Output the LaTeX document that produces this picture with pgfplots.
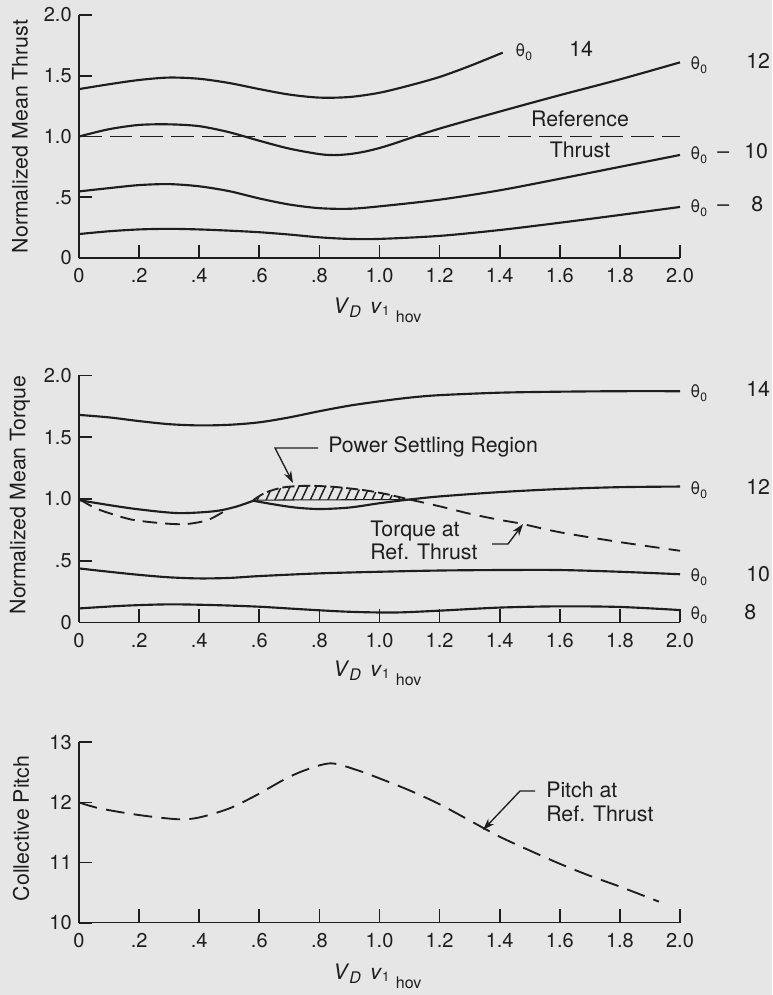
\documentclass[border=0pt]{standalone}
\usepackage{fontspec}
\setmainfont{TeX Gyre Heros}
\usepackage{pgfplots}
\pgfplotsset{compat=1.18}
\usetikzlibrary{patterns.meta,arrows.meta}
\definecolor{ink}{RGB}{30,30,30}
\definecolor{paper}{RGB}{229,230,229}
\newcommand\xlab{{\fontsize{16}{19}\selectfont\textit{V}\raisebox{-0.35ex}{\fontsize{12}{14}\selectfont\textit{D}}\hspace{0.45em}\textit{v}\raisebox{-0.15ex}{\fontsize{10}{12}\selectfont 1}\hspace{0.3em}\raisebox{-0.75ex}{\fontsize{12}{14}\selectfont hov}}}
\newcommand\thz{θ\textsubscript{0}}
\pgfplotsset{
  base/.style={anchor=south west, scale only axis, width=450.75pt,
    xmin=0, xmax=2,
    axis x line*=bottom, axis y line*=left,
    axis line style={ink, line width=1.1pt, -},
    xtick={0,0.2,0.4,0.6,0.8,1,1.2,1.4,1.6,1.8,2},
    xticklabels={0,.2,.4,.6,.8,1.0,1.2,1.4,1.6,1.8,2.0},
    xtick pos=bottom, ytick pos=left,
    xtick align=inside, ytick align=inside, major tick length=10pt,
    major tick style={draw=ink, line width=1.3pt},
    ticklabel style={font=\fontsize{15}{18}\selectfont, text=ink},
    xticklabel style={yshift=-4.5pt}, yticklabel style={xshift=-2pt},
    /pgf/number format/assume math mode=true, clip=false},
  curve/.style={ink, line width=1.6pt, smooth, no marks},
}
\begin{document}
\begin{tikzpicture}
\fill[paper] (0,0) rectangle (579pt,746.25pt);
\path[use as bounding box] (0,0) rectangle (579pt,746.25pt);

% ---------------- Thrust ----------------
\begin{axis}[base, at={(59.25pt,552.75pt)}, height=182.25pt,
  ymin=0, ymax=2, ytick={0,0.5,1,1.5,2}, yticklabels={0,.5,1.0,1.5,2.0}]
\addplot[curve] coordinates {(0,1.39) (0.1,1.43) (0.2,1.465) (0.3,1.485) (0.4,1.475) (0.5,1.44) (0.6,1.39) (0.7,1.345) (0.8,1.32) (0.9,1.325) (1.0,1.36) (1.1,1.42) (1.2,1.49) (1.3,1.58) (1.41,1.69)};
\addplot[curve] coordinates {(0,1.0) (0.1,1.06) (0.2,1.095) (0.3,1.10) (0.4,1.085) (0.5,1.035) (0.6,0.965) (0.7,0.9) (0.8,0.855) (0.85,0.847) (0.9,0.855) (0.95,0.875) (1.0,0.905) (1.05,0.943) (1.1,0.985) (1.2,1.065) (1.4,1.205) (1.6,1.34) (1.8,1.47) (2.0,1.61)};
\addplot[curve] coordinates {(0,0.548) (0.1,0.575) (0.2,0.6) (0.3,0.608) (0.4,0.59) (0.5,0.55) (0.6,0.49) (0.7,0.44) (0.8,0.41) (0.9,0.405) (1.0,0.425) (1.2,0.48) (1.4,0.557) (1.6,0.652) (1.8,0.75) (2.0,0.848)};
\addplot[curve] coordinates {(0,0.197) (0.1,0.22) (0.2,0.235) (0.3,0.24) (0.4,0.235) (0.5,0.225) (0.6,0.212) (0.7,0.193) (0.8,0.17) (0.9,0.157) (1.0,0.157) (1.2,0.182) (1.4,0.23) (1.6,0.29) (1.8,0.354) (2.0,0.42)};
\addplot[ink, line width=1.3pt, dash pattern=on 17pt off 6pt, no marks] coordinates {(0,1) (2,1)};
\end{axis}

% ---------------- Torque ----------------
\begin{axis}[base, at={(59.25pt,279.45pt)}, height=185.25pt,
  ymin=0, ymax=2, ytick={0,0.5,1,1.5,2}, yticklabels={0,.5,1.0,1.5,2.0}]
\addplot[curve] coordinates {(0,1.68) (0.1,1.66) (0.2,1.63) (0.3,1.605) (0.4,1.595) (0.5,1.60) (0.6,1.62) (0.7,1.66) (0.8,1.71) (0.9,1.755) (1.0,1.79) (1.1,1.82) (1.2,1.84) (1.4,1.86) (1.6,1.868) (1.8,1.872) (2.0,1.872)};
\addplot[curve] coordinates {(0,0.99) (0.1,0.95) (0.2,0.915) (0.33,0.885) (0.45,0.9) (0.52,0.935) (0.58,0.985)};
\addplot[curve] coordinates {(0.58,0.985) (0.65,0.955) (0.72,0.93) (0.8,0.918) (0.9,0.93) (1.0,0.965) (1.1,0.995) (1.2,1.02) (1.4,1.055) (1.6,1.08) (1.8,1.095) (2.0,1.10)};
\addplot[curve] coordinates {(0,0.437) (0.1,0.41) (0.2,0.385) (0.3,0.365) (0.4,0.356) (0.5,0.36) (0.6,0.375) (0.8,0.397) (1.0,0.41) (1.2,0.42) (1.4,0.424) (1.6,0.424) (1.8,0.41) (2.0,0.39)};
\addplot[curve] coordinates {(0,0.113) (0.15,0.135) (0.3,0.146) (0.45,0.14) (0.6,0.127) (0.75,0.105) (0.9,0.086) (1.05,0.08) (1.2,0.095) (1.4,0.12) (1.6,0.13) (1.8,0.125) (2.0,0.10)};
% power settling region (hatched)
\addplot[draw=none, no marks, pattern={Lines[angle=65,distance=6pt,line width=1.1pt]}, pattern color=ink] coordinates {(0.58,0.99) (0.60,1.025) (0.62,1.05) (0.65,1.075) (0.68,1.093) (0.72,1.103) (0.76,1.106) (0.80,1.104) (0.85,1.097) (0.90,1.085) (0.95,1.07) (1.00,1.05) (1.05,1.025) (1.1,0.995)} -- cycle;
\addplot[ink, line width=0.8pt, no marks] coordinates {(0.58,0.99) (1.1,0.995)};
% torque at reference thrust
\addplot[ink, line width=1.4pt, smooth, no marks, dash pattern=on 11pt off 6pt] coordinates {(0,1.0) (0.05,0.93) (0.1,0.885) (0.18,0.83) (0.29,0.80) (0.36,0.797) (0.43,0.83) (0.49,0.91)};
\addplot[ink, line width=1.4pt, smooth, no marks, dash pattern=on 9pt off 3pt] coordinates {(0.58,0.99) (0.62,1.05) (0.68,1.093) (0.76,1.106) (0.85,1.097) (0.95,1.07) (1.02,1.04) (1.1,0.995)};
\addplot[ink, line width=1.4pt, smooth, no marks, dash pattern=on 11pt off 7pt] coordinates {(1.1,0.995) (1.2,0.94) (1.3,0.88) (1.4,0.83) (1.47,0.80) (1.6,0.73) (1.8,0.65) (2.0,0.58)};
\end{axis}

% ---------------- Pitch ----------------
\begin{axis}[base, at={(59.25pt,54.225pt)}, height=135.3pt,
  ymin=10, ymax=13, ytick={10,11,12,13}, yticklabels={10,11,12,13}]
\addplot[ink, line width=1.4pt, smooth, no marks, dash pattern=on 14pt off 7pt] coordinates {(0,12.0) (0.07,11.9) (0.2,11.79) (0.33,11.72) (0.4,11.75) (0.5,11.9) (0.59,12.12) (0.69,12.4) (0.76,12.55) (0.84,12.65) (0.93,12.53) (1.0,12.4) (1.1,12.2) (1.2,11.97) (1.3,11.7) (1.4,11.43) (1.5,11.2) (1.6,10.98) (1.7,10.78) (1.8,10.6) (1.93,10.35)};
\end{axis}

% ---------------- annotations (pixel coordinates) ----------------
\begin{scope}[x=0.75pt, y=-0.75pt, yshift=746.25pt, every node/.style={text=ink, inner sep=0pt, font=\fontsize{16}{19}\selectfont}]
\node[rotate=90] at (20,136.5) {Normalized Mean Thrust};
\node[rotate=90] at (20,495) {Normalized Mean Torque};
\node[rotate=90] at (21,828.5) {Collective Pitch};
\node[anchor=base west] at (333,314) {\xlab};
\node[anchor=base west] at (333,677) {\xlab};
\node[anchor=base west] at (333,980) {\xlab};
% thrust labels
\node[anchor=base west, font=\fontsize{13}{15}\selectfont] at (515,57) {\thz};
\node[anchor=base west] at (569,57) {14};
\node[anchor=base west, font=\fontsize{13}{15}\selectfont] at (690,70) {\thz};
\node[anchor=base west] at (746,69) {12};
\node[anchor=base west, font=\fontsize{13}{15}\selectfont] at (690,160) {\thz};
\node[anchor=base west] at (717,159) {–};
\node[anchor=base west] at (744,159) {10};
\node[anchor=base west, font=\fontsize{13}{15}\selectfont] at (690,213) {\thz};
\node[anchor=base west] at (717,212) {–};
\node[anchor=base west] at (751,212) {8};
\node[anchor=base] at (580,127) {Reference};
\node[anchor=base] at (580,158) {Thrust};
% torque labels
\node[anchor=base west, font=\fontsize{13}{15}\selectfont] at (690,398) {\thz};
\node[anchor=base west] at (746,397) {14};
\node[anchor=base west, font=\fontsize{13}{15}\selectfont] at (690,495) {\thz};
\node[anchor=base west] at (746,495) {12};
\node[anchor=base west, font=\fontsize{13}{15}\selectfont] at (690,582) {\thz};
\node[anchor=base west] at (746,582) {10};
\node[anchor=base west, font=\fontsize{13}{15}\selectfont] at (690,620) {\thz};
\node[anchor=base west] at (744,620) {8};
\node[anchor=base west] at (328,453) {Power Settling Region};
\draw[ink, line width=1pt, -{Stealth[length=9pt,width=6pt]}] (318,448) -- (275,448) -- (293,483);
\node[anchor=base west] at (370,537) {Torque at};
\node[anchor=base west] at (370,560) {Ref. Thrust};
\draw[ink, line width=1pt, -{Stealth[length=9pt,width=6pt]}] (492,544) -- (508,544) -- (523,524);
% pitch labels
\node[anchor=base west] at (546,798) {Pitch at};
\node[anchor=base west] at (546,822) {Ref. Thrust};
\draw[ink, line width=1pt, -{Stealth[length=9pt,width=6pt]}] (535,791) -- (520,791) -- (483,830);
\end{scope}
\end{tikzpicture}
\end{document}
